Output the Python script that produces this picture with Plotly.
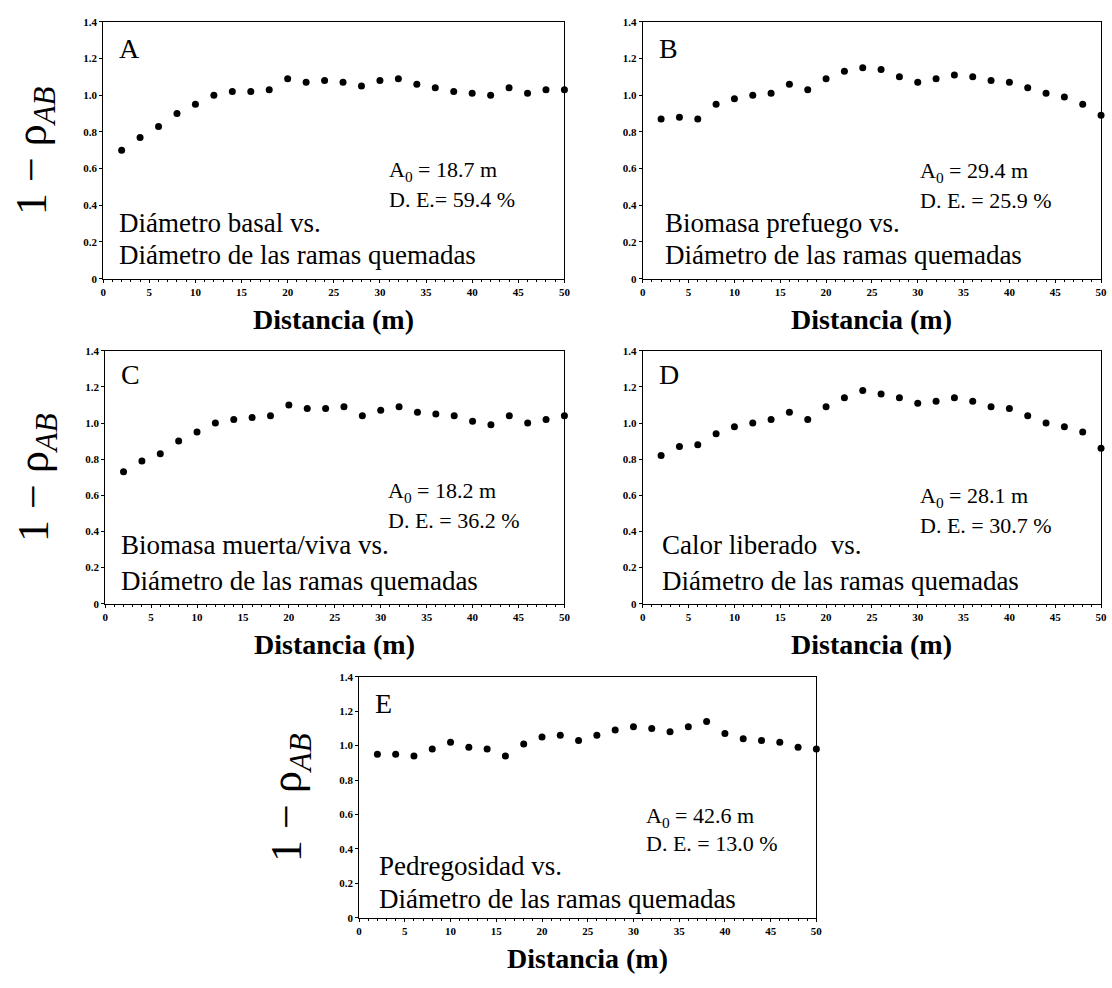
import plotly.graph_objects as go

# Distance classes (m) shared by every panel
distancia = [2, 4, 6, 8, 10, 12, 14, 16, 18, 20, 22, 24, 26, 28, 30,
             32, 34, 36, 38, 40, 42, 44, 46, 48, 50]

# 1 - rho_AB values for each variable pair
panel_a = [0.70, 0.77, 0.83, 0.90, 0.95, 1.00, 1.02, 1.02, 1.03, 1.09, 1.07, 1.08, 1.07,
           1.05, 1.08, 1.09, 1.06, 1.04, 1.02, 1.01, 1.00, 1.04, 1.01, 1.03, 1.03]
panel_b = [0.87, 0.88, 0.87, 0.95, 0.98, 1.00, 1.01, 1.06, 1.03, 1.09, 1.13, 1.15, 1.14,
           1.10, 1.07, 1.09, 1.11, 1.10, 1.08, 1.07, 1.04, 1.01, 0.99, 0.95, 0.89]
panel_c = [0.73, 0.79, 0.83, 0.90, 0.95, 1.00, 1.02, 1.03, 1.04, 1.10, 1.08, 1.08, 1.09,
           1.04, 1.07, 1.09, 1.06, 1.05, 1.04, 1.01, 0.99, 1.04, 1.00, 1.02, 1.04]
panel_d = [0.82, 0.87, 0.88, 0.94, 0.98, 1.00, 1.02, 1.06, 1.02, 1.09, 1.14, 1.18, 1.16,
           1.14, 1.11, 1.12, 1.14, 1.12, 1.09, 1.08, 1.04, 1.00, 0.98, 0.95, 0.86]
panel_e = [0.95, 0.95, 0.94, 0.98, 1.02, 0.99, 0.98, 0.94, 1.01, 1.05, 1.06, 1.03, 1.06,
           1.09, 1.11, 1.10, 1.08, 1.11, 1.14, 1.07, 1.04, 1.03, 1.02, 0.99, 0.98]

letras = ["A", "B", "C", "D", "E"]
rango_a0 = ["18.7", "29.4", "18.2", "28.1", "42.6"]
desv_esp = ["59.4", "25.9", "36.2", "30.7", "13.0"]
etiqueta_de = ["D. E.= ", "D. E. = ", "D. E. = ", "D. E. = ", "D. E. = "]
variables = ["Diámetro basal vs.", "Biomasa prefuego vs.", "Biomasa muerta/viva vs.",
             "Calor liberado  vs.", "Pedregosidad vs."]
segunda_linea = "Diámetro de las ramas quemadas"

y_ticks = [0, 0.2, 0.4, 0.6, 0.8, 1.0, 1.2, 1.4]
y_ticktext = ["0", "0.2", "0.4", "0.6", "0.8", "1.0", "1.2", "1.4"]
x_ticks = [0, 5, 10, 15, 20, 25, 30, 35, 40, 45, 50]

series = [panel_a, panel_b, panel_c, panel_d, panel_e]

W, H = 1112, 988
# plot boxes in pixels: (left, right, top, bottom)
boxes = [(101, 566, 16, 276), (645, 1107, 16, 276),
         (103, 566, 349, 605), (645, 1107, 349, 605),
         (359, 820, 679, 923)]
# whether the panel carries the vertical axis title
con_titulo_y = [True, False, True, False, True]
# text placement inside each panel (axis-domain fractions)
pos_a0 = [(0.615, 0.42, 0.31), (0.600, 0.415, 0.305), (0.612, 0.44, 0.33),
          (0.600, 0.42, 0.31), (0.623, 0.42, 0.31)]
pos_desc = [(0.03, 0.215, 0.092), (0.045, 0.215, 0.092), (0.03, 0.23, 0.09),
            (0.037, 0.23, 0.09), (0.039, 0.215, 0.08)]
pos_letra = [0.895, 0.895, 0.905, 0.905, 0.89]

SERIF = "Liberation Serif, Times New Roman, serif"

fig = go.Figure()
annotations = []

for i, (vals, box) in enumerate(zip(series, boxes)):
    n = "" if i == 0 else str(i + 1)
    xa, ya = "x" + n, "y" + n
    l, r, t, b = box
    fig.add_trace(go.Scatter(
        x=distancia, y=vals, mode="markers", xaxis=xa, yaxis=ya,
        marker=dict(color="black", size=7), showlegend=False, cliponaxis=False))

    axis_common = dict(showline=True, linecolor="black", linewidth=1, mirror=True,
                       showgrid=False, zeroline=False, ticks="outside", ticklen=3,
                       tickcolor="black",
                       tickfont=dict(family=SERIF, size=11, color="black", weight="bold"))
    fig.layout["xaxis" + n] = dict(
        domain=[l / W, r / W], anchor=ya, range=[0, 50], tickvals=x_ticks,
        minor=dict(dtick=1, ticklen=2, ticks="outside", tickcolor="black"),
        **axis_common)
    fig.layout["yaxis" + n] = dict(
        domain=[1 - b / H, 1 - t / H], anchor=xa, range=[0, 1.4],
        tickvals=y_ticks, ticktext=y_ticktext, **axis_common)

    dom = dict(xref=xa + " domain", yref=ya + " domain", showarrow=False)
    # panel letter
    annotations.append(dict(text=letras[i], x=0.03, y=pos_letra[i], xanchor="left",
                            yanchor="middle",
                            font=dict(family=SERIF, size=28, color="black"), **dom))
    # correlation range and explained deviance
    ax0, ay1, ay2 = pos_a0[i]
    annotations.append(dict(text="A<sub>0</sub> = " + rango_a0[i] + " m", x=ax0, y=ay1,
                            xanchor="left", yanchor="middle",
                            font=dict(family=SERIF, size=22, color="black"), **dom))
    annotations.append(dict(text=etiqueta_de[i] + desv_esp[i] + " %", x=ax0, y=ay2,
                            xanchor="left", yanchor="middle",
                            font=dict(family=SERIF, size=22, color="black"), **dom))
    # variable pair
    dx, dy1, dy2 = pos_desc[i]
    annotations.append(dict(text=variables[i], x=dx, y=dy1, xanchor="left", yanchor="middle",
                            font=dict(family=SERIF, size=27, color="black"), **dom))
    annotations.append(dict(text=segunda_linea, x=dx, y=dy2, xanchor="left", yanchor="middle",
                            font=dict(family=SERIF, size=27, color="black"), **dom))
    # axis titles
    annotations.append(dict(text="<b>Distancia (m)</b>", x=(l + r) / 2 / W, y=1 - (b + 41) / H,
                            xref="paper", yref="paper", showarrow=False,
                            xanchor="center", yanchor="middle",
                            font=dict(family=SERIF, size=28, color="black")))
    if con_titulo_y[i]:
        annotations.append(dict(text="1 − ρ<sub><i>AB</i></sub>", x=(l - 70) / W,
                                y=1 - (t + b) / 2 / H, xref="paper", yref="paper",
                                showarrow=False, textangle=-90,
                                xanchor="center", yanchor="middle",
                                font=dict(family=SERIF, size=44, color="black")))

fig.update_layout(width=W, height=H, margin=dict(l=0, r=0, t=0, b=0),
                  paper_bgcolor="white", plot_bgcolor="white",
                  annotations=annotations, showlegend=False)

fig.write_html("out.html")
